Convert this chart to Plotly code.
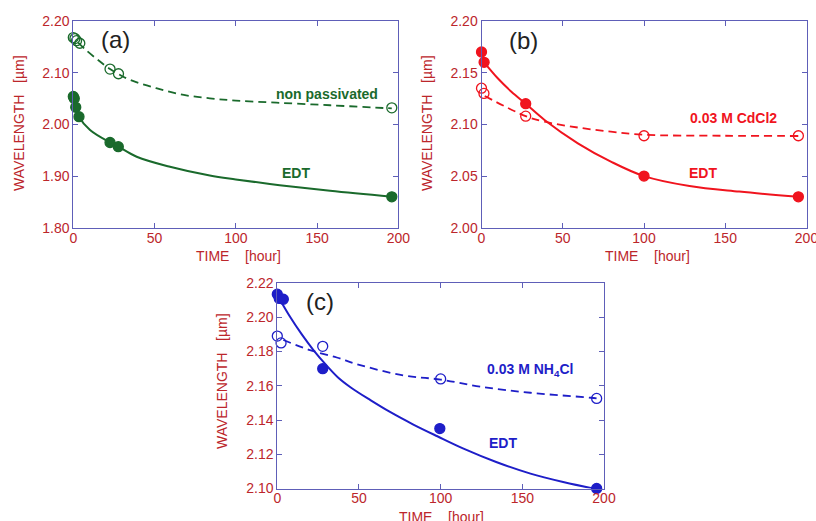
import plotly.graph_objects as go

# ---------------- data ----------------
# (a) non passivated vs EDT
A_NP_T = [0, 1, 2, 4, 22.6, 27.8, 196]
A_NP_V = [2.168, 2.166, 2.162, 2.157, 2.107, 2.098, 2.032]
A_EDT_T = [0, 0.6, 1.5, 3.5, 22.6, 27.7, 196]
A_EDT_V = [2.054, 2.050, 2.033, 2.015, 1.965, 1.957, 1.860]
A_NP_FIT_T = [3, 7, 15, 22.6, 28, 35, 51, 68, 84, 100, 125, 158, 191, 196]
A_NP_FIT_V = [2.158, 2.146, 2.125, 2.107, 2.097, 2.086, 2.070, 2.057, 2.0505, 2.046, 2.042, 2.037, 2.0317, 2.031]
A_EDT_FIT_T = [1.5, 3.5, 10.3, 22.6, 27.7, 39, 59.5, 84, 100, 127, 158, 196]
A_EDT_FIT_V = [2.033, 2.015, 1.989, 1.965, 1.957, 1.9375, 1.918, 1.901, 1.8935, 1.8825, 1.8715, 1.860]

# (b) 0.03 M CdCl2 vs EDT
B_CD_T = [0, 1.5, 27.2, 100, 195]
B_CD_V = [2.135, 2.130, 2.108, 2.089, 2.089]
B_EDT_T = [0, 1.6, 27.2, 100, 195]
B_EDT_V = [2.170, 2.160, 2.120, 2.050, 2.030]
B_CD_FIT_T = [2, 27.2, 38.8, 59.2, 79.6, 100, 150, 195]
B_CD_FIT_V = [2.1275, 2.108, 2.1026, 2.097, 2.093, 2.090, 2.089, 2.0888]
B_EDT_FIT_T = [1.6, 10, 18.4, 27.2, 38.8, 59.3, 79.6, 100, 128, 158.6, 195]
B_EDT_FIT_V = [2.160, 2.1446, 2.1316, 2.120, 2.1043, 2.0817, 2.064, 2.050, 2.0404, 2.035, 2.030]

# (c) 0.03 M NH4Cl vs EDT
C_NH_T = [0, 2.3, 27.8, 100, 195.5]
C_NH_V = [2.189, 2.185, 2.183, 2.164, 2.1526]
C_EDT_T = [0, 1.2, 3.7, 27.8, 99.5, 195.5]
C_EDT_V = [2.2135, 2.211, 2.2105, 2.170, 2.135, 2.100]
C_NH_FIT_T = [3.7, 20, 36.4, 48.7, 77.3, 100, 124.6, 155, 192, 195.5]
C_NH_FIT_V = [2.1867, 2.1808, 2.1765, 2.1726, 2.166, 2.1636, 2.1594, 2.1559, 2.153, 2.1526]
C_EDT_FIT_T = [1.2, 8, 15, 22, 30, 37, 45, 57, 69, 83, 98, 114, 134, 155, 175, 195.5]
C_EDT_FIT_V = [2.211, 2.200, 2.190, 2.181, 2.172, 2.165, 2.159, 2.1516, 2.1447, 2.1375, 2.1305, 2.1233, 2.1155, 2.1087, 2.1038, 2.0996]

# ---------------- styling ----------------
W, H = 816, 521
FONT = "Arial, Liberation Sans, sans-serif"
GREEN = "#1a6a2c"
RED = "#f0141e"
BLUE = "#1e1ec8"
FRAME = "#5e5eb8"
LABEL = "#bc262b"
NB = "\u00a0"
X_TITLE = f"TIME{NB*4}[hour]"
Y_TITLE = f"WAVELENGTH{NB*3}[\u00b5m]"


def fx(p):
    return p / W


def fy(p):
    return 1 - p / H


fig = go.Figure()


def add_series(t, v, fit_t, fit_v, color, filled, dash, ax):
    xa, ya = ("x", "y") if ax == 1 else (f"x{ax}", f"y{ax}")
    fig.add_trace(go.Scatter(
        x=fit_t, y=fit_v, mode="lines", xaxis=xa, yaxis=ya,
        line=dict(color=color, width=2 if dash is None else 1.8,
                  dash=dash if dash else "solid", shape="spline", smoothing=1.0),
        hoverinfo="skip", showlegend=False))
    marker = dict(size=10, color=color, line=dict(color=color, width=1.3)) if filled else \
        dict(size=10, color="rgba(0,0,0,0)", line=dict(color=color, width=1.3))
    fig.add_trace(go.Scatter(
        x=t, y=v, mode="markers", xaxis=xa, yaxis=ya, marker=marker,
        cliponaxis=False, showlegend=False))


DASH = "8px,5px"
add_series(A_NP_T, A_NP_V, A_NP_FIT_T, A_NP_FIT_V, GREEN, False, DASH, 1)
add_series(A_EDT_T, A_EDT_V, A_EDT_FIT_T, A_EDT_FIT_V, GREEN, True, None, 1)
add_series(B_CD_T, B_CD_V, B_CD_FIT_T, B_CD_FIT_V, RED, False, DASH, 2)
add_series(B_EDT_T, B_EDT_V, B_EDT_FIT_T, B_EDT_FIT_V, RED, True, None, 2)
add_series(C_NH_T, C_NH_V, C_NH_FIT_T, C_NH_FIT_V, BLUE, False, DASH, 3)
add_series(C_EDT_T, C_EDT_V, C_EDT_FIT_T, C_EDT_FIT_V, BLUE, True, None, 3)

panels = {
    1: dict(l=73.3, r=398.3, t=21, b=227.8, yr=[1.80, 2.20], dt=0.1),
    2: dict(l=481.5, r=806.5, t=21, b=227.8, yr=[2.00, 2.20], dt=0.05),
    3: dict(l=277.3, r=604, t=283, b=488.5, yr=[2.10, 2.22], dt=0.02),
}

common = dict(showline=True, linecolor=FRAME, linewidth=1, mirror="ticks",
              ticks="inside", ticklen=5, tickwidth=1, tickcolor=FRAME,
              showgrid=False, zeroline=False, ticklabeloverflow="allow",
              tickfont=dict(family=FONT, size=14, color=LABEL))

layout_axes = {}
for k, p in panels.items():
    sx = "" if k == 1 else str(k)
    layout_axes[f"xaxis{sx}"] = dict(
        common, domain=[fx(p["l"]), fx(p["r"])], range=[0, 200], dtick=50,
        tick0=0, anchor=f"y{sx}", ticklabelstandoff=-3)
    layout_axes[f"yaxis{sx}"] = dict(
        common, domain=[fy(p["b"]), fy(p["t"])], range=p["yr"], dtick=p["dt"],
        tick0=p["yr"][0], tickformat=".2f", anchor=f"x{sx}")

fig.update_layout(
    width=W, height=H, margin=dict(l=0, r=0, t=0, b=0, autoexpand=False),
    paper_bgcolor="white", plot_bgcolor="white",
    font=dict(family=FONT), **layout_axes)

annotations = []
# axis titles
for cx, cy in [(238, 256), (647, 256), (442, 516.7)]:
    annotations.append(dict(xref="paper", yref="paper", x=fx(cx), y=fy(cy),
                            xanchor="center", yanchor="middle",
                            text=X_TITLE, showarrow=False,
                            font=dict(family=FONT, size=14, color=LABEL)))
for cx, cy in [(19, 123), (427, 123), (222, 381)]:
    annotations.append(dict(xref="paper", yref="paper", x=fx(cx), y=fy(cy),
                            xanchor="center", yanchor="middle",
                            text=Y_TITLE, textangle=-90,
                            showarrow=False,
                            font=dict(family=FONT, size=14, color=LABEL)))


# panel letters and series labels (data coordinates)
def note(ax, x, y, text, color, size=14, bold=True):
    sx = "" if ax == 1 else str(ax)
    annotations.append(dict(xref=f"x{sx}", yref=f"y{sx}", x=x, y=y,
                            xanchor="center", yanchor="middle",
                            text=f"<b>{text}</b>" if bold else text,
                            showarrow=False,
                            font=dict(family=FONT, size=size, color=color)))


note(1, 26, 2.164, "(a)", "#222222", 24, False)
note(2, 26, 2.181, "(b)", "#222222", 24, False)
note(3, 26, 2.209, "(c)", "#222222", 24, False)
note(1, 156, 2.059, "non passivated", GREEN)
note(1, 137, 1.906, "EDT", GREEN)
note(2, 155, 2.106, "0.03 M CdCl2", RED)
note(2, 136.6, 2.053, "EDT", RED)
note(3, 155, 2.169, "0.03 M NH<sub>4</sub>Cl", BLUE)
note(3, 138, 2.1263, "EDT", BLUE)

fig.update_layout(annotations=annotations)
fig.write_html("out.html")
